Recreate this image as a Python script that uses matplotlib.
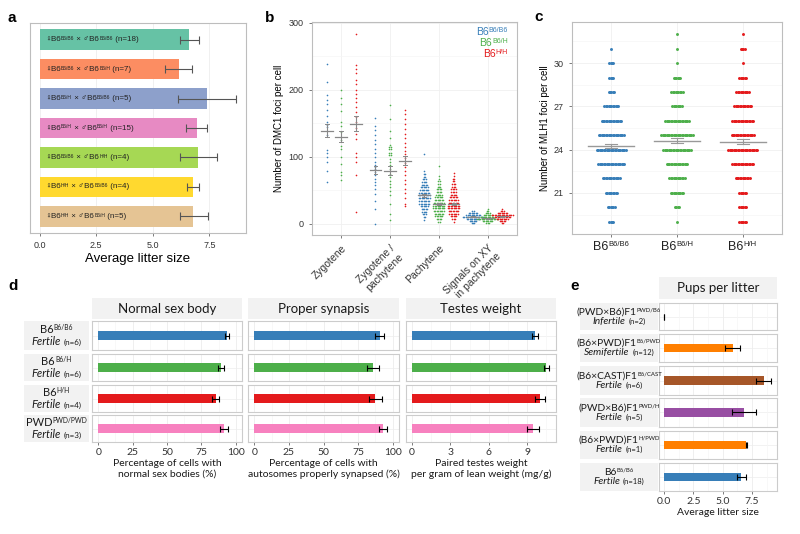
import numpy as np
import matplotlib
matplotlib.use("Agg")
import matplotlib.pyplot as plt
from matplotlib.offsetbox import TextArea, HPacker, VPacker, AnnotationBbox

W, H = 800, 534
fig = plt.figure(figsize=(8, 5.34), dpi=100)
plt.rcParams['font.family'] = ['Liberation Sans', 'DejaVu Sans']
SANS = ['Liberation Sans', 'DejaVu Sans']

def px_axes(x0, y0, x1, y1):
    # axes from pixel box (top-left origin)
    return fig.add_axes([x0 / W, 1 - y1 / H, (x1 - x0) / W, (y1 - y0) / H])

def gg_style(ax, border="#BDBDBD"):
    for s in ax.spines.values():
        s.set_color(border)
        s.set_linewidth(0.8)
    ax.tick_params(colors="#666666", labelcolor="#333333", length=2.5, width=0.6, labelsize=6.5)
    ax.set_axisbelow(True)

def sup_box(parts, size, supsize, color='#1A1A1A', family=SANS):
    # parts: (text, is_superscript); small pieces are top aligned like superscripts
    kids = [TextArea(t, textprops=dict(size=supsize if sup else size, color=color, family=family))
            for t, sup in parts]
    return HPacker(children=kids, align='top', pad=0, sep=0)

def place(ax, box, xy, align, coords='axes fraction'):
    ax.add_artist(AnnotationBbox(box, xy, xycoords=coords, frameon=False, box_alignment=align,
                                 annotation_clip=False, pad=0))

# ---------------- data ----------------
# a: litter size per cross
a_female = ["B6/B6", "B6/B6", "B6/H", "B6/H", "B6/B6", "H/H", "H/H"]
a_male = ["B6/B6", "B6/H", "B6/B6", "B6/H", "H/H", "B6/B6", "B6/H"]
a_n = [18, 7, 5, 15, 4, 4, 5]
a_mean = [6.6, 6.17, 7.4, 6.95, 7.0, 6.77, 6.8]
a_low = [6.2, 5.55, 6.1, 6.45, 6.2, 6.5, 6.2]
a_high = [7.05, 6.75, 8.7, 7.4, 7.85, 7.05, 7.43]
a_colors = ["#66C2A5", "#FC8D62", "#8DA0CB", "#E78AC3", "#A6D854", "#FFD92F", "#E5C494"]

# b: DMC1 foci per cell
b_stages = ["Zygotene", "Zygotene /\npachytene", "Pachytene", "Signals on XY\nin pachytene"]
geno_sup = ["B6/B6", "B6/H", "H/H"]
geno_colors = ["#377EB8", "#4DAF4A", "#E41A1C"]

zyg_b6_vals = [238, 211, 192, 185, 178, 169, 160, 152, 147, 144, 139, 132, 110, 105, 100, 92, 78, 62]
zyg_het_vals = [200, 188, 179, 168, 151, 146, 137, 130, 125, 116, 111, 100, 89, 77, 72, 65]
zyg_hh_vals = [283, 237, 231, 225, 215, 209, 200, 193, 188, 181, 174, 166, 159, 152, 143, 134, 126,
               106, 100, 92, 72, 18]
zp_b6_vals = [157, 146, 140, 132, 125, 119, 112, 105, 99, 92, 87, 84, 82, 77, 72, 67, 62, 57, 52,
              44, 34, 22, 0]
zp_het_vals = [177, 156, 139, 128, 118, 115, 112, 105, 102, 97, 92, 87, 82, 78, 74, 69, 64, 59, 54,
               49, 42, 29, 15, 6]
zp_het_cnts = [1, 1, 1, 1, 1, 2, 2, 2, 2, 1, 1, 1, 1, 1, 1, 1, 1, 1, 1, 1, 1, 1, 1, 1]
zp_hh_vals = [169, 163, 156, 149, 141, 134, 128, 121, 115, 109, 104, 98, 94, 90, 84, 78, 72, 65,
              59, 52, 45, 38, 30, 27]
pach_b6_vals = [6, 10, 14, 18, 22, 26, 30, 34, 38, 42, 46, 50, 54, 58, 62, 66, 70, 74, 78, 104]
pach_b6_cnts = [1, 2, 3, 4, 5, 6, 8, 8, 9, 9, 8, 7, 6, 5, 4, 3, 2, 2, 1, 1]
pach_het_vals = [3, 7, 11, 15, 19, 23, 27, 31, 35, 39, 43, 47, 51, 55, 59, 63, 67, 71, 86]
pach_het_cnts = [2, 4, 6, 7, 8, 9, 9, 8, 7, 6, 5, 4, 4, 3, 2, 2, 1, 1, 1]
pach_hh_vals = [3, 7, 11, 15, 19, 23, 27, 31, 35, 39, 43, 47, 51, 55, 59, 63, 67, 71, 75]
pach_hh_cnts = [1, 3, 5, 7, 8, 9, 9, 8, 7, 6, 5, 4, 4, 3, 3, 2, 2, 1, 1]
xy_b6_vals = [1, 4, 7, 10, 13, 16, 19]
xy_b6_cnts = [3, 6, 10, 16, 11, 7, 2]
xy_het_vals = [1, 4, 7, 10, 13, 16, 19, 22]
xy_het_cnts = [3, 8, 16, 11, 7, 4, 2, 1]
xy_hh_vals = [1, 4, 7, 10, 13, 16, 19, 22]
xy_hh_cnts = [2, 5, 9, 12, 16, 8, 3, 1]
b_mean = [[139, 130, 149], [80, 79, 94], [42, 30, 30], [10.5, 8, 11]]
b_se = [[9, 8, 11], [6, 7, 7], [2, 1.5, 1.5], [0.8, 0.8, 0.8]]

# c: MLH1 foci per cell
c_vals = [19, 20, 21, 22, 23, 24, 25, 26, 27, 28, 29, 30, 31, 32]
c_b6_cnts = [4, 6, 9, 13, 20, 22, 19, 15, 11, 5, 4, 4, 1, 0]
c_het_cnts = [1, 4, 10, 12, 16, 21, 24, 18, 8, 9, 6, 1, 1, 1]
c_hh_cnts = [6, 6, 6, 11, 16, 22, 17, 16, 13, 10, 6, 1, 4, 1]
c_mean = [24.25, 24.62, 24.55]
c_se = [0.15, 0.17, 0.17]

# d: spermatocyte phenotypes
d_base = ["B6", "B6", "B6", "PWD"]
d_sup = ["B6/B6", "B6/H", "H/H", "PWD/PWD"]
d_status = ["Fertile", "Fertile", "Fertile", "Fertile"]
d_n = ["(n=6)", "(n=6)", "(n=4)", "(n=3)"]
d_colors = ["#377EB8", "#4DAF4A", "#E41A1C", "#F781BF"]
d_titles = ["Normal sex body", "Proper synapsis", "Testes weight"]
d_xlabels = ["Percentage of cells with\nnormal sex bodies (%)",
             "Percentage of cells with\nautosomes properly synapsed (%)",
             "Paired testes weight\nper gram of lean weight (mg/g)"]
sexbody_mean = [93.5, 89.5, 85.5, 91.5]
sexbody_se = [1.5, 2.2, 2.5, 3.0]
synapsis_mean = [90.5, 85.5, 87.5, 93.0]
synapsis_se = [3.3, 4.3, 4.8, 3.0]
testes_mean = [9.62, 10.5, 10.0, 9.45]
testes_se = [0.25, 0.2, 0.42, 0.5]

# e: pups per litter
e_base = ["(PWD×B6)F1", "(B6×PWD)F1", "(B6×CAST)F1", "(PWD×B6)F1", "(B6×PWD)F1", "B6"]
e_sup = ["PWD/B6", "B6/PWD", "B6/CAST", "PWD/H", "H/PWD", "B6/B6"]
e_status = ["Infertile", "Semifertile", "Fertile", "Fertile", "Fertile", "Fertile"]
e_n = ["(n=2)", "(n=12)", "(n=6)", "(n=5)", "(n=1)", "(n=18)"]
e_mean = [0.0, 5.85, 8.5, 6.8, 7.0, 6.6]
e_se = [0.0, 0.65, 0.62, 1.0, 0.03, 0.4]
e_colors = ["#999999", "#FF7F00", "#A65628", "#984EA3", "#FF7F00", "#377EB8"]

# ---------------- panel a ----------------
ax = px_axes(30, 23, 246, 233)
gg_style(ax)
ypos = np.arange(len(a_mean))
ax.barh(ypos, a_mean, height=0.7, color=a_colors)
ax.errorbar(a_mean, ypos, xerr=[np.subtract(a_mean, a_low), np.subtract(a_high, a_mean)],
            fmt='none', ecolor='#555555', elinewidth=0.8, capsize=3, capthick=0.8)
for y, f, m, n in zip(ypos, a_female, a_male, a_n):
    lab = sup_box([("♀B6", False), (f, True), (" × ♂B6", False), (m, True), (" (n=%d)" % n, False)],
                  5.8, 3.6, color='#222222')
    place(ax, lab, (0.25, y), (0, 0.5), coords='data')
ax.set_xlim(-0.42, 9.12)
ax.set_ylim(6.56, -0.56)
ax.set_yticks([])
ax.set_xticks([0, 2.5, 5, 7.5])
ax.set_xticklabels(["0.0", "2.5", "5.0", "7.5"])
ax.grid(axis='x', color='#EEEEEE', lw=0.6)
ax.set_xlabel("Average litter size", fontsize=9.5, labelpad=2)

# ---------------- panel b ----------------
def dot_strip(ax, center, vals, cnts, step, color, s):
    xs, ys = [], []
    for v, c in zip(vals, cnts):
        offs = (np.arange(c) - (c - 1) / 2) * step
        xs.extend(center + offs)
        ys.extend([v] * c)
    ax.scatter(xs, ys, s=s, color=color, lw=0, zorder=2)

ax = px_axes(312, 22, 517, 235)
gg_style(ax)
groups = [
    [(zyg_b6_vals, [1] * len(zyg_b6_vals)), (zyg_het_vals, [1] * len(zyg_het_vals)),
     (zyg_hh_vals, [1] * len(zyg_hh_vals))],
    [(zp_b6_vals, [1] * len(zp_b6_vals)), (zp_het_vals, zp_het_cnts), (zp_hh_vals, [1] * len(zp_hh_vals))],
    [(pach_b6_vals, pach_b6_cnts), (pach_het_vals, pach_het_cnts), (pach_hh_vals, pach_hh_cnts)],
    [(xy_b6_vals, xy_b6_cnts), (xy_het_vals, xy_het_cnts), (xy_hh_vals, xy_hh_cnts)],
]
dodge = [-0.3, 0.0, 0.3]
for i, stage in enumerate(groups):
    for j, (vals, cnts) in enumerate(stage):
        cx = i + 1 + dodge[j]
        dot_strip(ax, cx, vals, cnts, 0.028, geno_colors[j], 1.4)
        m, se = b_mean[i][j], b_se[i][j]
        ax.plot([cx - 0.12, cx + 0.12], [m, m], color='#888888', lw=0.9, zorder=3)
        ax.plot([cx, cx], [m - se, m + se], color='#888888', lw=0.8, zorder=3)
        for e in (m - se, m + se):
            ax.plot([cx - 0.04, cx + 0.04], [e, e], color='#888888', lw=0.7, zorder=3)
ax.set_xlim(0.4, 4.6)
ax.set_ylim(-17, 301)
ax.set_yticks([0, 100, 200, 300])
ax.set_yticks([50, 150, 250], minor=True)
ax.tick_params(axis='y', which='minor', length=0)
ax.set_xticks([1, 2, 3, 4])
ax.set_xticklabels(b_stages, rotation=45, ha='right', rotation_mode='anchor', fontsize=7.5)
ax.grid(which='major', color='#F0F0F0', lw=0.6)
ax.grid(which='minor', axis='y', color='#F6F6F6', lw=0.5)
ax.set_ylabel("Number of DMC1 foci per cell", fontsize=7, labelpad=3)
for j, (sup, col) in enumerate(zip(geno_sup, geno_colors)):
    place(ax, sup_box([("B6", False), (sup, True)], 7.5, 5, color=col),
          (0.956, 0.953 - j * 0.052), (1, 0.5))

# ---------------- panel c ----------------
ax = px_axes(572, 22, 782, 234)
gg_style(ax)
for j, cnts in enumerate([c_b6_cnts, c_het_cnts, c_hh_cnts]):
    cx = j + 1
    dot_strip(ax, cx, c_vals, cnts, 0.021, geno_colors[j], 4.5)
    m, se = c_mean[j], c_se[j]
    ax.plot([cx - 0.35, cx + 0.35], [m, m], color='#999999', lw=1.0, zorder=3)
    ax.plot([cx, cx], [m - se, m + se], color='#999999', lw=0.8, zorder=3)
    for e in (m - se, m + se):
        ax.plot([cx - 0.09, cx + 0.09], [e, e], color='#999999', lw=0.8, zorder=3)
ax.set_xlim(0.4, 3.6)
ax.set_ylim(18.15, 32.85)
ax.set_yticks([21, 24, 27, 30])
ax.set_yticks([19.5, 22.5, 25.5, 28.5, 31.5], minor=True)
ax.tick_params(axis='y', which='minor', length=0)
ax.set_xticks([1, 2, 3])
ax.set_xticklabels(["", "", ""])
for j, sup in enumerate(geno_sup):
    place(ax, sup_box([("B6", False), (sup, True)], 9, 5.5, color='#222222'),
          (j + 1, -0.035), (0.5, 1), coords=('data', 'axes fraction'))
ax.grid(which='major', color='#F0F0F0', lw=0.6)
ax.grid(which='minor', axis='y', color='#F6F6F6', lw=0.5)
ax.set_ylabel("Number of MLH1 foci per cell", fontsize=7, labelpad=3)

# ---------------- facet helpers (d, e) ----------------
STRIP = "#F2F2F2"

def blank(ax):
    ax.set_xticks([])
    ax.set_yticks([])
    for s in ax.spines.values():
        s.set_visible(False)

def strip(x0, y0, x1, y1, title):
    sa = px_axes(x0, y0, x1, y1)
    sa.set_facecolor(STRIP)
    blank(sa)
    sa.text(0.5, 0.48, title, transform=sa.transAxes, ha='center', va='center',
            fontsize=9.5, family='Lato', color='#1A1A1A')

def row_label(x0, y0, x1, y1, base, sup, status, n, size=8, supsize=4.8, nsize=5.8):
    ra = px_axes(x0, y0, x1, y1)
    ra.set_facecolor(STRIP)
    blank(ra)
    top = sup_box([(base, False), (sup, True)], size, supsize, family='Lato')
    bottom = HPacker(children=[
        TextArea(status, textprops=dict(size=size, family='Lato', style='italic', color='#1A1A1A')),
        TextArea(n, textprops=dict(size=nsize, family='Lato', color='#1A1A1A'))],
        align='baseline', pad=0, sep=2)
    box = VPacker(children=[top, bottom], align='center', pad=0, sep=0.5)
    place(ra, box, (0.5, 0.5), (0.5, 0.5))

def facet_bar(ax, val, err, color, xlim, ticks, minor, last):
    ax.barh([1], [val], height=0.38, color=color, zorder=2)
    ax.errorbar([val], [1], xerr=[err], fmt='none', ecolor='black', elinewidth=0.8,
                capsize=2, capthick=0.8, zorder=3)
    ax.set_xlim(xlim)
    ax.set_ylim(0.4, 1.6)
    ax.set_yticks([])
    ax.set_xticks(ticks)
    ax.set_xticks(minor, minor=True)
    ax.grid(which='major', axis='x', color='#EDEDED', lw=0.6)
    ax.grid(which='minor', axis='x', color='#F5F5F5', lw=0.5)
    ax.axhline(1, color='#F0F0F0', lw=0.6, zorder=0)
    for s in ax.spines.values():
        s.set_color('#CCCCCC')
        s.set_linewidth(0.8)
    ax.set_axisbelow(True)
    ax.tick_params(which='minor', length=0)
    if last:
        ax.tick_params(which='major', colors='#666666', labelcolor='#333333', length=2.5,
                       width=0.6, labelsize=7.5, pad=1.5)
        for t in ax.get_xticklabels():
            t.set_family('Lato')
    else:
        ax.tick_params(which='major', length=0, labelbottom=False)

# ---------------- panel d ----------------
d_cols = [(92, 242), (248, 399), (406, 556)]
d_rows = [(321, 350), (354, 381), (385, 412), (415, 442)]
d_data = [(sexbody_mean, sexbody_se), (synapsis_mean, synapsis_se), (testes_mean, testes_se)]
d_xlim = [(-4.5, 104.5), (-4.5, 104.5), (-0.47, 11.25)]
d_ticks = [[0, 25, 50, 75, 100], [0, 25, 50, 75, 100], [0, 3, 6, 9]]
d_minor = [[12.5, 37.5, 62.5, 87.5], [12.5, 37.5, 62.5, 87.5], [1.5, 4.5, 7.5, 10.5]]
for c, (x0, x1) in enumerate(d_cols):
    strip(x0, 298, x1, 319, d_titles[c])
    means, ses = d_data[c]
    for r, (y0, y1) in enumerate(d_rows):
        fa = px_axes(x0, y0, x1, y1)
        facet_bar(fa, means[r], ses[r], d_colors[r], d_xlim[c], d_ticks[c], d_minor[c],
                  r == len(d_rows) - 1)
        if r == len(d_rows) - 1:
            fa.set_xlabel(d_xlabels[c], fontsize=7.5, family='Lato', labelpad=2, linespacing=1.15,
                          color='#1A1A1A')
for r, (y0, y1) in enumerate(d_rows):
    row_label(24, y0, 89, y1, d_base[r], d_sup[r], d_status[r], d_n[r])

# ---------------- panel e ----------------
e_rows = [(303, 330), (334, 362), (366, 395), (398, 427), (431, 459), (463, 491)]
strip(659, 277, 777, 299, "Pups per litter")
for r, (y0, y1) in enumerate(e_rows):
    fa = px_axes(659, y0, 777, y1)
    facet_bar(fa, e_mean[r], e_se[r], e_colors[r], (-0.43, 9.63), [0, 2.5, 5, 7.5],
              [1.25, 3.75, 6.25, 8.75], r == len(e_rows) - 1)
    if r == len(e_rows) - 1:
        fa.set_xticklabels(["0.0", "2.5", "5.0", "7.5"])
        fa.set_xlabel("Average litter size", fontsize=7.5, family='Lato', labelpad=2, color='#1A1A1A')
    row_label(580, y0, 658, y1, e_base[r], e_sup[r], e_status[r], e_n[r],
              size=7.4, supsize=4.3, nsize=5.5)

# panel letters
for lab, x, y in [("a", 12, 18), ("b", 270, 18), ("c", 539, 17), ("d", 13, 286), ("e", 575, 286)]:
    fig.text(x / W, 1 - y / H, lab, fontsize=11, weight='bold', ha='center', va='center')

fig.savefig("out.png", dpi=100)
